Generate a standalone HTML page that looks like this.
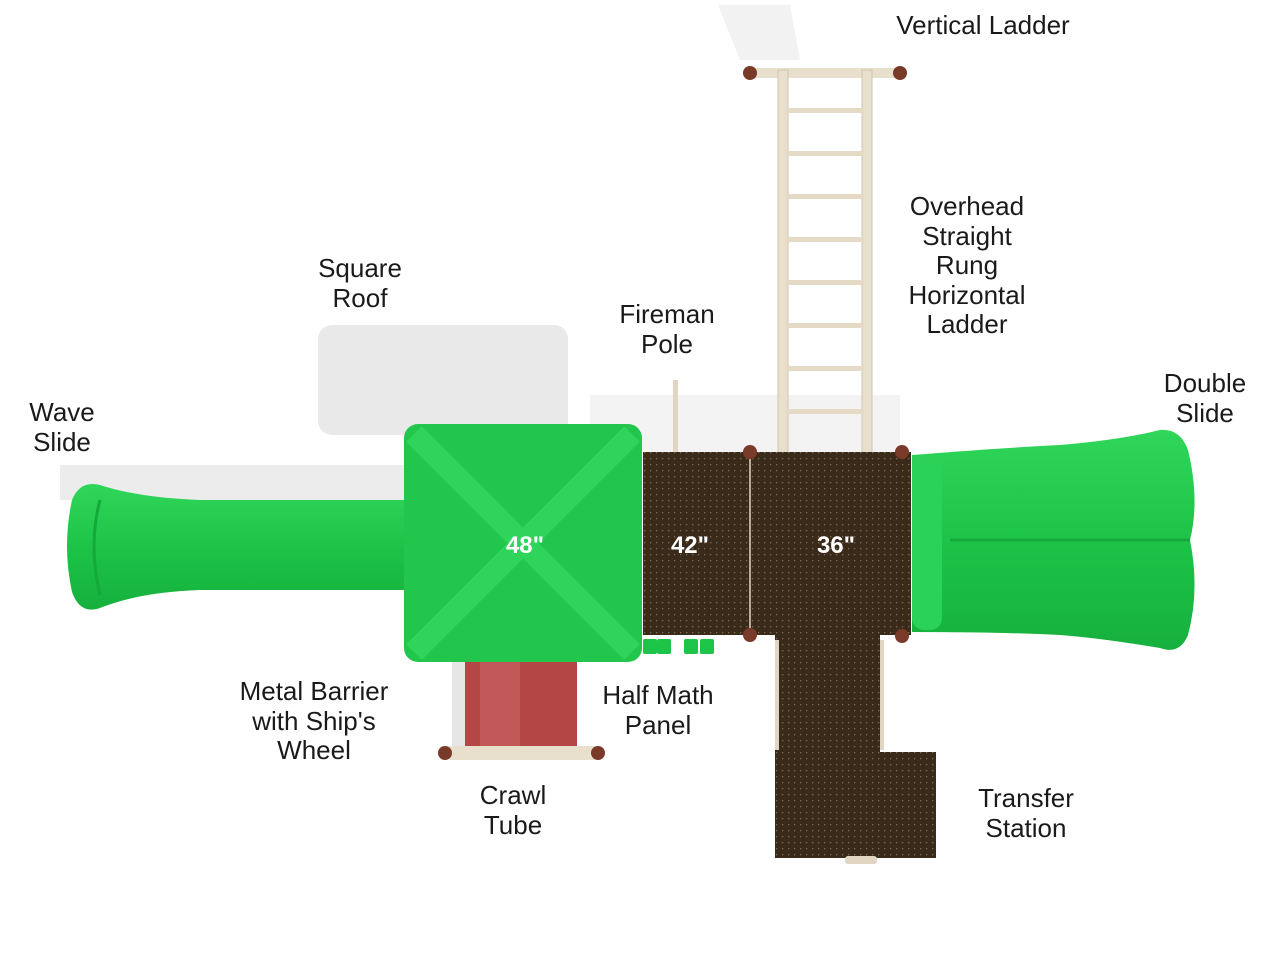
<!DOCTYPE html>
<html><head><meta charset="utf-8"><style>
body{margin:0;width:1280px;height:960px;background:#fff;overflow:hidden;font-family:"Liberation Sans",sans-serif}
.l{position:absolute;font-size:26px;color:#1a1a1a;text-align:center;line-height:29.5px;transform:translateX(-50%);white-space:nowrap}
.w{position:absolute;color:#fff;font-weight:bold;font-size:24px;transform:translate(-50%,-50%)}
</style></head><body>
<svg width="1280" height="960" style="position:absolute;left:0;top:0">
<defs>
<pattern id="dots" width="6" height="6" patternUnits="userSpaceOnUse"><rect width="6" height="6" fill="#3a2a1a"/><rect x="2" y="2" width="1.3" height="1.3" fill="#7a6a58"/></pattern>
<linearGradient id="g1" x1="0" y1="0" x2="0" y2="1"><stop offset="0" stop-color="#2fd65a"/><stop offset="0.5" stop-color="#1cc447"/><stop offset="1" stop-color="#16b03d"/></linearGradient>
</defs>
<rect x="318" y="325" width="250" height="110" rx="14" fill="#e9e9e9"/>
<rect x="60" y="465" width="350" height="35" fill="#ececec"/>
<polygon points="718,5 790,5 800,60 740,60" fill="#f2f2f2"/>
<rect x="590" y="395" width="310" height="57" fill="#f3f3f3"/>
<path d="M100,485 Q80,480 72,500 Q62,546 72,592 Q80,615 100,608 Q140,592 200,590 L405,590 L405,500 L200,500 Q140,498 100,485Z" fill="url(#g1)"/>
<path d="M100,500 Q88,546 100,595" stroke="#15a83a" stroke-width="3" fill="none"/>
<rect x="750" y="68" width="150" height="10" rx="4" fill="#e8dfcc"/>
<rect x="778" y="70" width="10" height="385" fill="#e8dfcc" stroke="#cfc4ae"/>
<rect x="862" y="70" width="10" height="385" fill="#e8dfcc" stroke="#cfc4ae"/>
<g fill="#e4dac6">
<rect x="786" y="108" width="78" height="5"/><rect x="786" y="151" width="78" height="5"/><rect x="786" y="194" width="78" height="5"/><rect x="786" y="237" width="78" height="5"/><rect x="786" y="280" width="78" height="5"/><rect x="786" y="323" width="78" height="5"/><rect x="786" y="366" width="78" height="5"/><rect x="786" y="409" width="78" height="5"/>
</g>
<rect x="673" y="380" width="5" height="75" fill="#e0d6c2"/>
<rect x="643" y="452" width="108" height="183" fill="url(#dots)"/>
<rect x="751" y="452" width="160" height="183" fill="url(#dots)"/>
<line x1="750" y1="452" x2="750" y2="635" stroke="#b8ae9a" stroke-width="2"/>
<rect x="775" y="635" width="105" height="223" fill="url(#dots)"/>
<rect x="880" y="752" width="56" height="106" fill="url(#dots)"/>
<line x1="777" y1="640" x2="777" y2="750" stroke="#e0d6c2" stroke-width="4"/>
<line x1="882" y1="640" x2="882" y2="750" stroke="#e0d6c2" stroke-width="4"/>
<g fill="#1cc447"><rect x="643" y="639" width="14" height="15" rx="2"/><rect x="657" y="639" width="14" height="15" rx="2"/><rect x="684" y="639" width="14" height="15" rx="2"/><rect x="700" y="639" width="14" height="15" rx="2"/></g>
<path d="M912,455 Q1000,448 1060,445 Q1120,440 1160,430 Q1180,428 1188,450 Q1200,500 1190,540 Q1200,590 1188,635 Q1180,655 1160,648 Q1100,638 1060,635 Q1000,632 912,632Z" fill="url(#g1)"/>
<path d="M950,540 L1190,540" stroke="#15a83a" stroke-width="3"/>
<rect x="912" y="458" width="30" height="172" rx="12" fill="#2bd258"/>
<rect x="404" y="424" width="238" height="238" rx="14" fill="#22c64c"/>
<g stroke="#2fd55a" stroke-width="22"><line x1="414" y1="434" x2="632" y2="652"/><line x1="632" y1="434" x2="414" y2="652"/></g>
<rect x="452" y="662" width="14" height="85" fill="#e6e6e6"/>
<rect x="465" y="662" width="112" height="85" fill="#b44646"/>
<rect x="480" y="662" width="40" height="85" fill="#c25858"/>
<rect x="445" y="746" width="155" height="14" rx="7" fill="#e8dfcc"/>
<g fill="#7a3a2a"><circle cx="445" cy="753" r="7"/><circle cx="598" cy="753" r="7"/><circle cx="750" cy="73" r="7"/><circle cx="900" cy="73" r="7"/><circle cx="750" cy="452" r="7"/><circle cx="902" cy="452" r="7"/><circle cx="750" cy="635" r="7"/><circle cx="902" cy="636" r="7"/></g>
<rect x="845" y="856" width="32" height="8" rx="3" fill="#e0d6c2"/>
</svg>
<div class="w" style="left:525px;top:546px">48"</div>
<div class="w" style="left:690px;top:546px">42"</div>
<div class="w" style="left:836px;top:546px">36"</div>
<div class="l" style="left:983px;top:11px">Vertical Ladder</div>
<div class="l" style="left:967px;top:192px">Overhead<br>Straight<br>Rung<br>Horizontal<br>Ladder</div>
<div class="l" style="left:360px;top:254px">Square<br>Roof</div>
<div class="l" style="left:667px;top:300px">Fireman<br>Pole</div>
<div class="l" style="left:62px;top:398px">Wave<br>Slide</div>
<div class="l" style="left:1205px;top:369px">Double<br>Slide</div>
<div class="l" style="left:314px;top:677px">Metal Barrier<br>with Ship's<br>Wheel</div>
<div class="l" style="left:658px;top:681px">Half Math<br>Panel</div>
<div class="l" style="left:513px;top:781px">Crawl<br>Tube</div>
<div class="l" style="left:1026px;top:784px">Transfer<br>Station</div>
</body></html>
